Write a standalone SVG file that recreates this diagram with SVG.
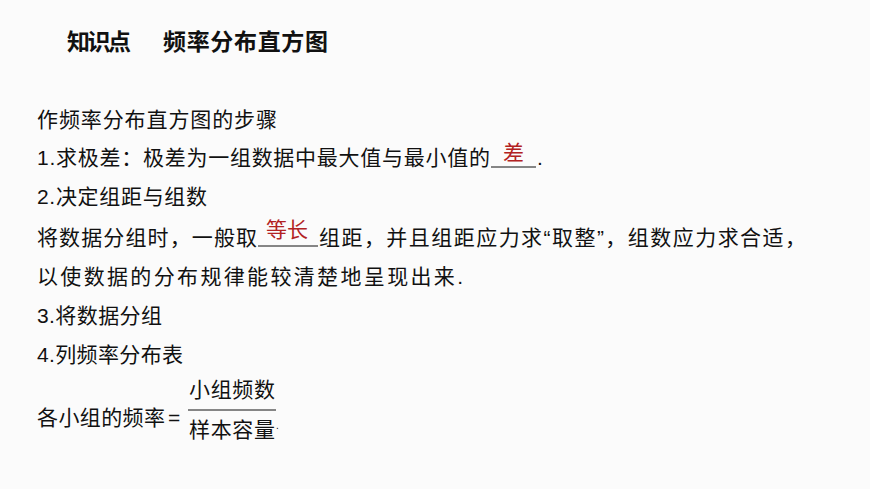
<svg xmlns="http://www.w3.org/2000/svg" width="870" height="489" viewBox="0 0 870 489">
<style>
text{font-family:"Liberation Sans","Noto Sans CJK SC",sans-serif;font-size:21px;fill:#111}
.t{font-weight:bold;font-size:23px}
.n{font-family:"Liberation Serif","Noto Sans CJK SC",serif}
.r{fill:#b22222}
line{stroke:#111;stroke-width:1}
</style>
<rect width="870" height="489" fill="#fbfbfb"/>
<g id="title"><text class="t" x="67" y="50" textLength="64">知识点</text><text class="t" x="163" y="50" textLength="165">频率分布直方图</text></g>
<g id="body">
<text x="37" y="127" textLength="240">作频率分布直方图的步骤</text>
<text x="37" y="165" textLength="453">1.求极差：极差为一组数据中最大值与最小值的</text>
<line x1="491" y1="167" x2="536" y2="167"/>
<text class="r" x="503" y="160">差</text>
<text x="537" y="165">.</text>
<text x="37" y="204" textLength="170">2.决定组距与组数</text>
<text x="37" y="245" textLength="220">将数据分组时，一般取</text>
<line x1="258" y1="246" x2="318" y2="246"/>
<text class="r" x="266" y="237">等长</text>
<text x="319" y="245" textLength="487">组距，并且组距应力求“取整”，组数应力求合适，</text>
<text x="37" y="284" textLength="426">以使数据的分布规律能较清楚地呈现出来.</text>
<text x="37" y="323" textLength="125">3.将数据分组</text>
<text x="37" y="362" textLength="146">4.列频率分布表</text>
<text x="37" y="425" textLength="128">各小组的频率</text>
<text x="168" y="425">=</text>
<text x="189" y="397" textLength="86">小组频数</text>
<line x1="188" y1="410" x2="276" y2="410"/>
<text x="189" y="437" textLength="86">样本容量</text>
<text x="276" y="429" style="font-size:10px">.</text>
</g>
</svg>
